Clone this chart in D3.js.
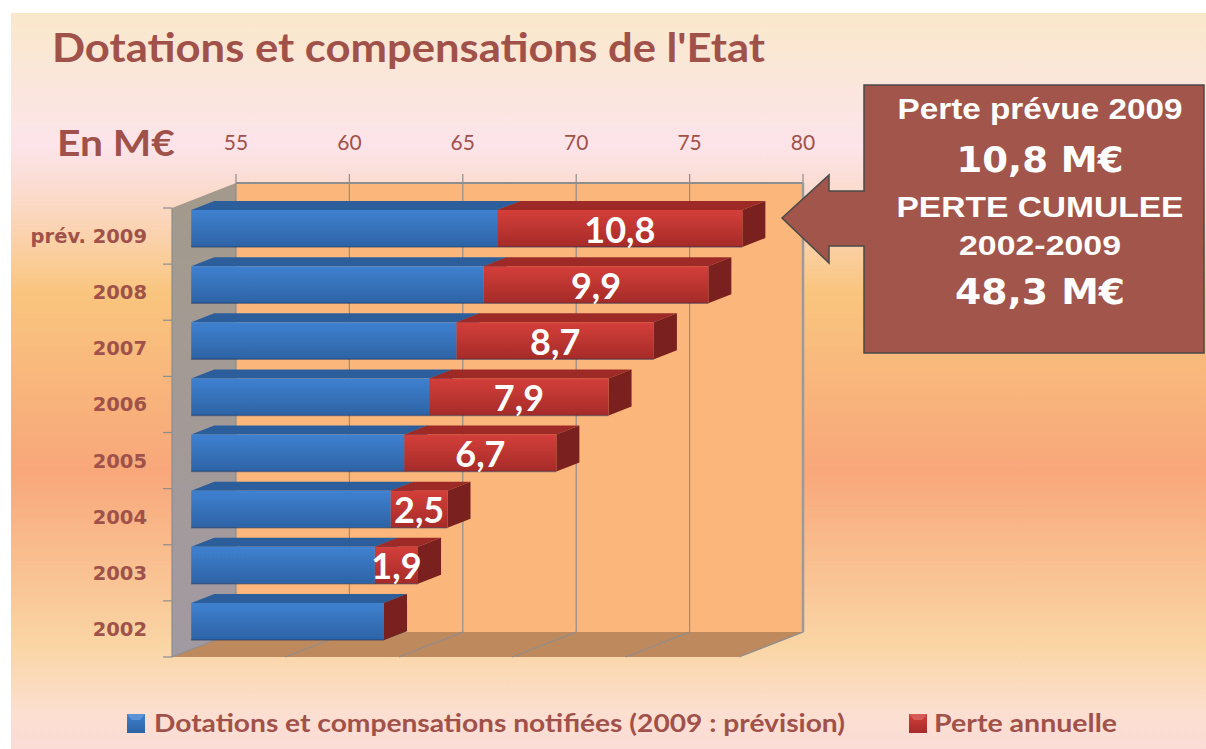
<!DOCTYPE html>
<html>
<head>
<meta charset="utf-8">
<script src="https://cdn.jsdelivr.net/npm/d3@7"></script>
<style>
  body { margin: 0; background: #fff; }
  svg { display: block; }
</style>
</head>
<body>
<div id="chart"></div>
<script>
// data
const years = ["2002", "2003", "2004", "2005", "2006", "2007", "2008", "prév. 2009"];
const dotations = [63.5, 63.1, 63.8, 64.4, 65.5, 66.7, 67.9, 68.5];
const pertes = [0, 1.9, 2.5, 6.7, 7.9, 8.7, 9.9, 10.8];
const perteLabels = ["", "1,9", "2,5", "6,7", "7,9", "8,7", "9,9", "10,8"];
const xTicks = [55, 60, 65, 70, 75, 80];
const seriesNames = ["Dotations et compensations notifiées (2009 : prévision)", "Perte annuelle"];
const calloutLines = ["Perte prévue 2009", "10,8 M€", "PERTE CUMULEE", "2002-2009", "48,3 M€"];

const W = 1206, H = 749;
const brown = "#A0524A";

const svg = d3.select("#chart").append("svg")
  .attr("width", W).attr("height", H);

const defs = svg.append("defs");

// background gradient
const bg = defs.append("linearGradient").attr("id", "bg")
  .attr("x1", 0).attr("y1", 0).attr("x2", 0).attr("y2", 1);
[[0, "#FAE8CB"], [0.18, "#FCE4EA"], [0.27, "#FBD7C0"], [0.38, "#F9C57E"],
 [0.62, "#F8A77A"], [0.86, "#FAD5A4"], [0.95, "#FCDFD0"], [1, "#FCDCD8"]]
  .forEach(([o, c]) => bg.append("stop").attr("offset", o).attr("stop-color", c));

const grad = (id, top, bottom) => {
  const g = defs.append("linearGradient").attr("id", id)
    .attr("x1", 0).attr("y1", 0).attr("x2", 0).attr("y2", 1);
  g.append("stop").attr("offset", 0).attr("stop-color", top);
  g.append("stop").attr("offset", 1).attr("stop-color", bottom);
};
grad("blueFront", "#3F81D0", "#2D63A5");
grad("redFront", "#D43F3A", "#A52B28");
grad("wallLeft", "#A39A8C", "#A29AA2");

svg.append("rect").attr("x", 11).attr("y", 13)
  .attr("width", W - 11).attr("height", H - 13).attr("fill", "url(#bg)");

// title
svg.append("text")
  .attr("x", 52).attr("y", 62)
  .attr("font-family", "Lato, sans-serif").attr("font-weight", 700)
  .attr("font-size", 40).attr("fill", brown)
  .attr("textLength", 713).attr("lengthAdjust", "spacingAndGlyphs")
  .text("Dotations et compensations de l'Etat");

svg.append("text")
  .attr("x", 57).attr("y", 156)
  .attr("font-family", "Lato, sans-serif").attr("font-weight", 700)
  .attr("font-size", 36).attr("fill", brown)
  .attr("textLength", 118).attr("lengthAdjust", "spacingAndGlyphs")
  .text("En M€");

// oblique 3d projection: depth 0 = front plane, depth 1 = back wall
const DX = 64, DY = 25;
const x = d3.scaleLinear().domain([55, 80]).range([172, 739]);
const y = d3.scaleBand().domain(years.slice().reverse())
  .range([208, 657]).paddingInner(0.34).paddingOuter(0.17);
const P = (v, yy, depth) => [x(v) + depth * DX, yy - depth * DY];
const poly = pts => "M" + pts.map(p => p.join(",")).join("L") + "Z";

const yTop = y.range()[0], yBot = y.range()[1];

// back wall
svg.append("path")
  .attr("d", poly([P(55, yTop, 1), P(80, yTop, 1), P(80, yBot, 1), P(55, yBot, 1)]))
  .attr("fill", "#FBB77B");

// left wall
svg.append("path")
  .attr("d", poly([P(55, yTop, 0), P(55, yTop, 1), P(55, yBot, 1), P(55, yBot, 0)]))
  .attr("fill", "url(#wallLeft)");

// floor
svg.append("path")
  .attr("d", poly([P(55, yBot, 0), P(80, yBot, 0), P(80, yBot, 1), P(55, yBot, 1)]))
  .attr("fill", "#BF895E");

// gridlines on wall and floor
const grid = svg.append("g").attr("stroke", "#8E8E8E").attr("stroke-width", 1.2).attr("fill", "none");
xTicks.forEach(t => {
  grid.append("path").attr("d", poly([P(t, yTop - 9, 1), P(t, yBot, 1), P(t, yBot, 0)]).slice(0, -1));
});
grid.append("path").attr("d", "M" + P(55, yTop, 1).join(",") + "L" + P(80, yTop, 1).join(","))
  .attr("stroke-width", 2);
grid.append("path").attr("d", "M" + P(80, yTop, 1).join(",") + "L" + P(80, yBot, 1).join(","))
  .attr("stroke-width", 2.5).attr("stroke", "#9A9A9A");

// left axis with ticks
const leftAxis = svg.append("g").attr("stroke", "#8E8E8E").attr("stroke-width", 1.2);
leftAxis.append("line").attr("x1", x(55)).attr("x2", x(55)).attr("y1", yTop).attr("y2", yBot);
d3.range(years.length + 1).forEach(i => {
  const yy = yTop + i * y.step();
  leftAxis.append("line").attr("x1", x(55) - 9).attr("x2", x(55)).attr("y1", yy).attr("y2", yy);
});

// tick labels at top
svg.append("g").selectAll("text").data(xTicks).join("text")
  .attr("x", d => P(d, 0, 1)[0]).attr("y", 150)
  .attr("text-anchor", "middle")
  .attr("font-family", "Lato, sans-serif").attr("font-size", 21)
  .attr("fill", brown)
  .text(d => d);

// category labels
svg.append("g").selectAll("text").data(years).join("text")
  .attr("x", 147).attr("y", d => y(d) + y.bandwidth() / 2 + 7)
  .attr("text-anchor", "end")
  .attr("font-family", "DejaVu Sans, sans-serif").attr("font-weight", 700)
  .attr("font-size", 19.5).attr("fill", brown)
  .text(d => d);

// 3d bars
const f0 = 0.3, f1 = 0.66;
const box = (g, v0, v1, yy, h, front, top, side) => {
  g.append("path").attr("d", poly([P(v0, yy, f0), P(v0, yy, f1), P(v1, yy, f1), P(v1, yy, f0)]))
    .attr("fill", top);
  g.append("path").attr("d", poly([P(v1, yy, f0), P(v1, yy, f1), P(v1, yy + h, f1), P(v1, yy + h, f0)]))
    .attr("fill", side);
  if (v1 > v0) {
    g.append("path").attr("d", poly([P(v0, yy, f0), P(v1, yy, f0), P(v1, yy + h, f0), P(v0, yy + h, f0)]))
      .attr("fill", front);
    g.append("path").attr("d", "M" + P(v0, yy + h, f0).join(",") + "L" + P(v1, yy + h, f0).join(","))
      .attr("stroke", "rgba(30,50,90,0.45)").attr("stroke-width", 1.5);
  }
};

const bars = svg.append("g");
years.forEach((yr, i) => {
  const g = bars.append("g");
  const yy = y(yr), h = y.bandwidth();
  box(g, 55, dotations[i], yy, h, "url(#blueFront)", "#2C5E9B", "#234C80");
  box(g, dotations[i], dotations[i] + pertes[i], yy, h, "url(#redFront)", "#9E2A27", "#7A201E");
});

// value labels
svg.append("g").selectAll("text").data(years).join("text")
  .attr("x", (d, i) => P(dotations[i] + pertes[i] / 2, 0, f0)[0])
  .attr("y", d => P(55, y(d) + y.bandwidth() / 2, f0)[1] + 14)
  .attr("text-anchor", "middle")
  .attr("font-family", "Lato, sans-serif").attr("font-weight", 700)
  .attr("font-size", 36).attr("fill", "#fff")
  .text((d, i) => perteLabels[i]);

// callout box with arrow
const callout = svg.append("g");
callout.append("path")
  .attr("d", "M864,85 L1204,85 L1204,353 L864,353 L864,246 L829,246 L829,263 L782,218 L829,175 L829,191 L864,191 Z")
  .attr("fill", "#A2554A").attr("stroke", "#4A4A4A").attr("stroke-width", 1.5);

const calloutY = [119, 172, 217, 255, 304];
const calloutFont = [
  { fam: "Liberation Sans, Arial, sans-serif", size: 30, len: 285 },
  { fam: "DejaVu Sans, sans-serif", size: 36, len: 167 },
  { fam: "Liberation Sans, Arial, sans-serif", size: 30, len: 287 },
  { fam: "Liberation Sans, Arial, sans-serif", size: 28, len: 162 },
  { fam: "DejaVu Sans, sans-serif", size: 36, len: 170 }
];
callout.selectAll("text").data(calloutLines).join("text")
  .attr("x", 1040).attr("y", (d, i) => calloutY[i])
  .attr("text-anchor", "middle")
  .attr("font-family", (d, i) => calloutFont[i].fam)
  .attr("font-weight", 700)
  .attr("font-size", (d, i) => calloutFont[i].size)
  .attr("textLength", (d, i) => calloutFont[i].len)
  .attr("lengthAdjust", "spacingAndGlyphs")
  .attr("fill", "#fff")
  .text(d => d);

// legend
const legend = svg.append("g");
const legX = [127, 909], legTextX = [154, 934], legLen = [691, 183];
const legFront = ["url(#blueFront)", "url(#redFront)"];
const legTop = ["#5B93D6", "#D65A55"];
seriesNames.forEach((name, i) => {
  legend.append("rect").attr("x", legX[i]).attr("y", 714)
    .attr("width", 18).attr("height", 19).attr("fill", legFront[i]);
  legend.append("path")
    .attr("d", `M${legX[i]},714 L${legX[i] + 18},714 L${legX[i] + 13},720 L${legX[i] + 5},720 Z`)
    .attr("fill", legTop[i]);
  legend.append("text")
    .attr("x", legTextX[i]).attr("y", 732)
    .attr("font-family", "Lato, sans-serif").attr("font-weight", 700)
    .attr("font-size", 25).attr("fill", brown)
    .attr("textLength", legLen[i]).attr("lengthAdjust", "spacingAndGlyphs")
    .text(name);
});
</script>
</body>
</html>
